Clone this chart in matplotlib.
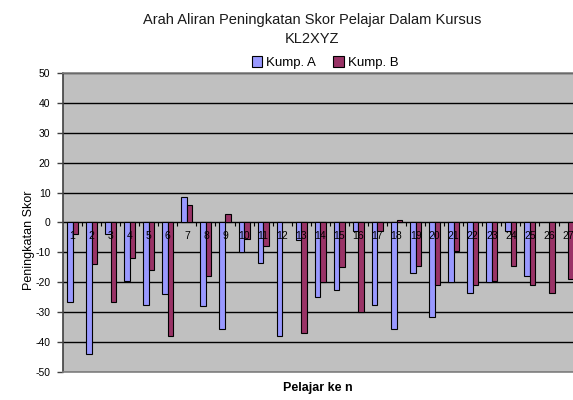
import numpy as np
import matplotlib
matplotlib.use("Agg")
import matplotlib.pyplot as plt

plt.rcParams['font.family'] = ['Liberation Sans', 'DejaVu Sans']

# data
pelajar = list(range(1, 28))
kump_a = [-26.5, -44, -4, -19.5, -27.5, -24, 8.5, -28, -35.5, -10, -13.5, -38, -6,
          -25, -22.5, -3, -27.5, -35.5, -17, -31.5, -20, -23.5, -20, -3, -18, np.nan, np.nan]
kump_b = [-4, -14, -26.5, -12, -16, -38, 6, -18, 3, -5.5, -8, np.nan, -37,
          -20, -15, -30, -3, 1, -14.5, -21, -9.5, -21, -19.5, -14.5, -21, -23.5, -19]
yticks = list(range(-50, 51, 10))

fig = plt.figure(figsize=(5.73, 4.0), dpi=100)
ax = fig.add_axes([0.110, 0.07, 0.890, 0.7475])
ax.set_facecolor('#C0C0C0')

x = np.array(pelajar)
w = 0.29
ax.bar(x - w / 2, kump_a, w, color='#9999FF', edgecolor='black', linewidth=0.8,
       label='Kump. A', zorder=2)
ax.bar(x + w / 2, kump_b, w, color='#993366', edgecolor='black', linewidth=0.8,
       label='Kump. B', zorder=2)

# gridlines behind bars
for t in yticks:
    ax.axhline(t, color='black', linewidth=1.0, zorder=1)

ax.set_xlim(0.5, 27.26)
ax.set_ylim(-50, 50)
ax.set_yticks(yticks)
ax.set_yticklabels([str(t) for t in yticks], fontsize=7.5)
ax.tick_params(axis='y', length=4, width=1, color='#404040', pad=5)
ax.set_xticks([])

# category ticks and labels on the zero line
ax.vlines(x[:-1] + 0.5, 0, -1.1, color='black', linewidth=0.8, zorder=3)
for k in pelajar:
    ax.annotate(str(k), (k, 0), xytext=(0, -9.5), textcoords='offset points',
                ha='center', va='center', fontsize=7.5, zorder=4)

for side in ['left', 'top', 'bottom']:
    ax.spines[side].set_color('#808080')
    ax.spines[side].set_linewidth(1.2)
ax.spines['left'].set_color('#404040')
ax.spines['right'].set_visible(False)

ax.set_ylabel('Peningkatan Skor', fontsize=9)
ax.yaxis.set_label_coords(-0.055, 0.44)
ax.set_xlabel('Pelajar ke n', fontsize=9, fontweight='bold')
ax.xaxis.set_label_coords(0.5, -0.035)

fig.text(0.545, 0.927, 'Arah Aliran Peningkatan Skor Pelajar Dalam Kursus\nKL2XYZ',
         ha='center', va='center', fontsize=10.5, linespacing=1.45, color='#1a1a1a')

fig.legend(loc='center', bbox_to_anchor=(0.567, 0.843), ncol=2, fontsize=9.5,
           frameon=False, handlelength=0.8, handleheight=0.8, handletextpad=0.3,
           columnspacing=1.3, borderpad=0.1)

fig.savefig('out.png', dpi=100)
